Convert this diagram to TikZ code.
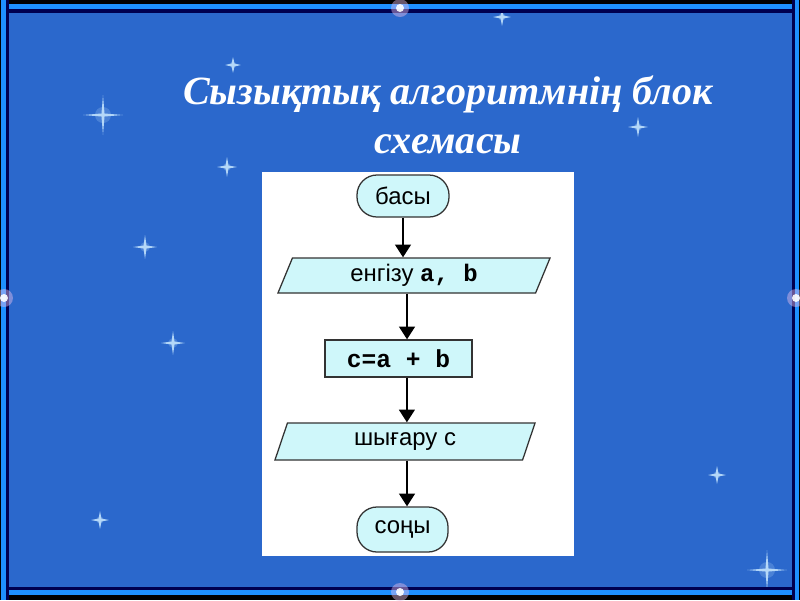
\documentclass[tikz,border=0pt]{standalone}
\usepackage{fontspec}
\setmainfont{Liberation Serif}
\setsansfont{Liberation Sans}
\setmonofont{Liberation Mono}
\usetikzlibrary{shapes.geometric}
\usetikzlibrary{arrows.meta}
\definecolor{slide}{RGB}{43,104,204}
\definecolor{rim}{RGB}{30,144,255}
\definecolor{navy}{RGB}{0,0,80}
\definecolor{boxfill}{RGB}{207,247,250}
\definecolor{starlight}{RGB}{200,232,255}
\definecolor{edgeglow}{RGB}{230,190,235}

\begin{document}
\begin{tikzpicture}[x=0.025cm, y=-0.025cm,
    term node/.style={draw=black!80, fill=boxfill, rounded corners=0.5cm, line width=0.9pt, font=\fontsize{17}{20}\sffamily, inner sep=0pt},
    io node/.style={trapezium, trapezium stretches body, draw=black!80, fill=boxfill, line width=0.9pt, font=\fontsize{17}{20}\sffamily, inner sep=0pt},
    proc node/.style={rectangle, draw=black!80, fill=boxfill, line width=0.9pt, font=\fontsize{17.5}{20}\ttfamily\bfseries, inner sep=0pt},
    flow/.style={line width=1.8pt, -{Triangle[width=11pt,length=9pt]}},
    ]
  \useasboundingbox (0,0) rectangle (800,600);
  \fill[slide] (0,0) rectangle (800,600);

  \foreach \x/\y/\s in {103/115/1, 145/247/0.6, 173/343/0.6, 227/167/0.5, 233/65/0.4, 638/127/0.5, 100/520/0.45, 717/475/0.45, 767/570/1, 502/17/0.45} {
    \fill[starlight, opacity=0.2] (\x,\y) circle (8*\s);
    \fill[starlight, opacity=0.85] (\x-20*\s,\y) -- (\x-1.5,\y-1.5) -- (\x,\y-20*\s) -- (\x+1.5,\y-1.5) -- (\x+20*\s,\y) -- (\x+1.5,\y+1.5) -- (\x,\y+20*\s) -- (\x-1.5,\y+1.5) -- cycle;
  }

  \fill[black] (0,0) rectangle (800,4);
  \fill[rim] (0,4) rectangle (800,8.5);
  \fill[navy] (0,8.5) rectangle (800,13);
  \fill[navy] (0,587) rectangle (800,590);
  \fill[rim] (0,590) rectangle (800,594.5);
  \fill[black] (0,594.5) rectangle (800,600);
  \fill[black] (0,0) rectangle (1.5,600);
  \fill[rim] (1.5,0) rectangle (6,600);
  \fill[navy] (6,0) rectangle (9,600);
  \fill[navy] (792,0) rectangle (795,600);
  \fill[rim] (795,0) rectangle (799,600);
  \fill[black] (799,0) rectangle (800,600);

  \foreach \x/\y in {400/8, 400/592, 4/298, 796/298} {
    \fill[edgeglow, opacity=0.45] (\x,\y) circle (9);
    \fill[white, opacity=0.9] (\x,\y) circle (4);
  }

  \node[text=white, font=\fontsize{28.5}{35}\selectfont\bfseries\itshape, align=center] (title) at (448,115) {Сызықтық алгоритмнің блок\\схемасы};

  \fill[white] (262,172) rectangle (574,556);

  \node[term node, minimum width=2.3cm, minimum height=1.05cm] (start) at (403,196) {басы};
  \node[io node, trapezium left angle=57, trapezium right angle=123, minimum width=6.8cm, minimum height=0.875cm] (in) at (414,275.5) {енгізу {\ttfamily\bfseries a, b}};
  \node[proc node, minimum width=3.675cm, minimum height=0.925cm] (calc) at (398.5,358.5) {c=a + b};
  \node[io node, trapezium left angle=55, trapezium right angle=125, minimum width=6.5cm, minimum height=0.925cm] (out) at (405,441.5) {шығару c};
  \node[term node, minimum width=2.275cm, minimum height=1.125cm] (end) at (402.5,529.5) {соңы};

  \draw[flow] (start) -- (start |- in.north);
  \draw[flow] ([xshift=-0.175cm]in.south) -- ([xshift=-0.175cm]in.south |- calc.north);
  \draw[flow] ([xshift=0.21cm]calc.south) -- ([xshift=0.21cm]calc.south |- out.north);
  \draw[flow] ([xshift=0.05cm]out.south) -- ([xshift=0.05cm]out.south |- end.north);
\end{tikzpicture}
\end{document}
